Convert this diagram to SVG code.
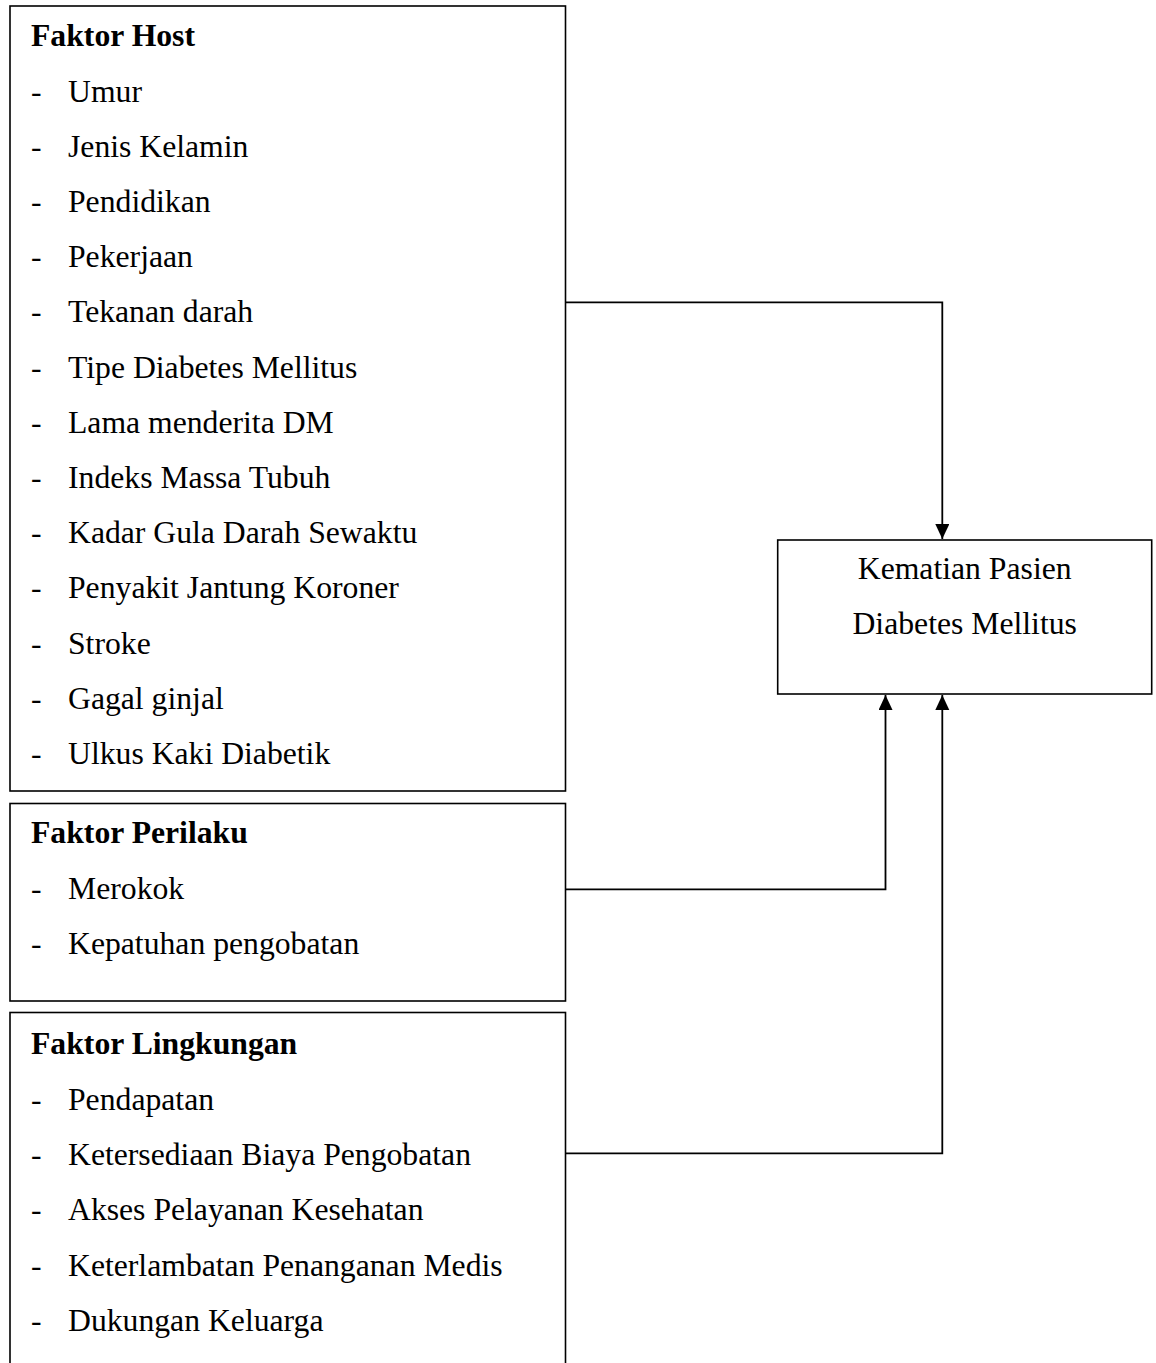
<svg xmlns="http://www.w3.org/2000/svg" width="1156" height="1363" viewBox="0 0 1156 1363">
<style>
.box{fill:#fff;stroke:#000;stroke-width:1.6}
.t{font-family:"Liberation Serif","Times New Roman",serif;font-size:31.7px;fill:#000}
.b{font-weight:bold}
.c{text-anchor:middle}
.ln{fill:none;stroke:#000;stroke-width:1.8}
</style>
<defs>
<marker id="ah" markerUnits="userSpaceOnUse" markerWidth="16" markerHeight="16" refX="15" refY="7" orient="auto">
<path d="M0,0 L15,7 L0,14 Z" fill="#000"/>
</marker>
</defs>
<rect width="1156" height="1363" fill="#fff"/>
<g id="host">
<rect class="box" x="10" y="6" width="555.5" height="785"/>
<text class="t b" x="31" y="46.3">Faktor Host</text>
<g class="t">
<text x="31" y="101.5">-</text><text x="68" y="101.5">Umur</text>
<text x="31" y="156.7">-</text><text x="68" y="156.7">Jenis Kelamin</text>
<text x="31" y="211.9">-</text><text x="68" y="211.9">Pendidikan</text>
<text x="31" y="267.1">-</text><text x="68" y="267.1">Pekerjaan</text>
<text x="31" y="322.3">-</text><text x="68" y="322.3">Tekanan darah</text>
<text x="31" y="377.5">-</text><text x="68" y="377.5">Tipe Diabetes Mellitus</text>
<text x="31" y="432.7">-</text><text x="68" y="432.7">Lama menderita DM</text>
<text x="31" y="487.9">-</text><text x="68" y="487.9">Indeks Massa Tubuh</text>
<text x="31" y="543.1">-</text><text x="68" y="543.1">Kadar Gula Darah Sewaktu</text>
<text x="31" y="598.3">-</text><text x="68" y="598.3">Penyakit Jantung Koroner</text>
<text x="31" y="653.5">-</text><text x="68" y="653.5">Stroke</text>
<text x="31" y="708.7">-</text><text x="68" y="708.7">Gagal ginjal</text>
<text x="31" y="763.9">-</text><text x="68" y="763.9">Ulkus Kaki Diabetik</text>
</g>
</g>
<g id="perilaku">
<rect class="box" x="10" y="803.5" width="555.5" height="197.5"/>
<text class="t b" x="31" y="843.3">Faktor Perilaku</text>
<g class="t">
<text x="31" y="898.5">-</text><text x="68" y="898.5">Merokok</text>
<text x="31" y="953.7">-</text><text x="68" y="953.7">Kepatuhan pengobatan</text>
</g>
</g>
<g id="lingkungan">
<rect class="box" x="10" y="1012.5" width="555.5" height="370"/>
<text class="t b" x="31" y="1054.3">Faktor Lingkungan</text>
<g class="t">
<text x="31" y="1109.6">-</text><text x="68" y="1109.6">Pendapatan</text>
<text x="31" y="1164.9">-</text><text x="68" y="1164.9">Ketersediaan Biaya Pengobatan</text>
<text x="31" y="1220.2">-</text><text x="68" y="1220.2">Akses Pelayanan Kesehatan</text>
<text x="31" y="1275.5">-</text><text x="68" y="1275.5">Keterlambatan Penanganan Medis</text>
<text x="31" y="1330.8">-</text><text x="68" y="1330.8">Dukungan Keluarga</text>
</g>
</g>
<g id="kematian">
<rect class="box" x="777.7" y="540" width="374" height="154"/>
<text class="t c" x="964.7" y="579.3">Kematian Pasien</text>
<text class="t c" x="964.7" y="634.3">Diabetes Mellitus</text>
</g>
<g id="connectors">
<polyline class="ln" points="565.5,302.3 942.3,302.3 942.3,539" marker-end="url(#ah)"/>
<polyline class="ln" points="565.5,889.3 885.5,889.3 885.5,695" marker-end="url(#ah)"/>
<polyline class="ln" points="565.5,1153.3 942.3,1153.3 942.3,695" marker-end="url(#ah)"/>
</g>
</svg>
